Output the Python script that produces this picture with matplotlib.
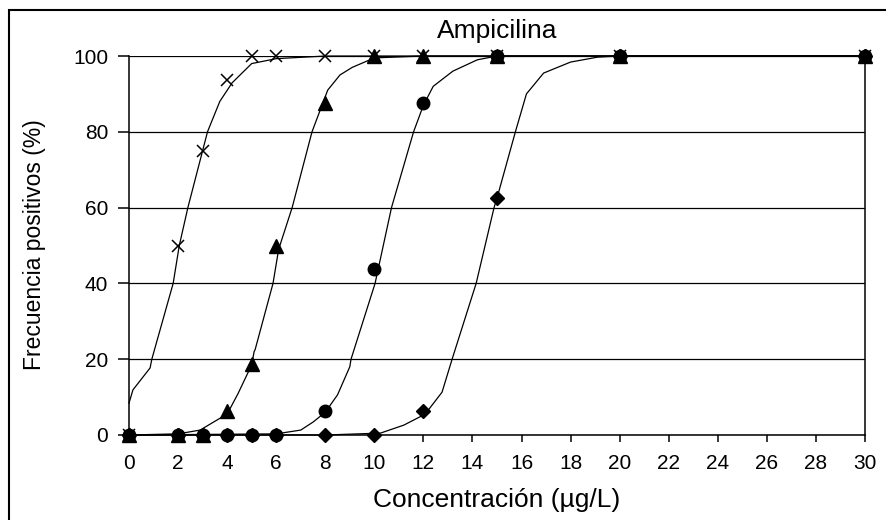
import matplotlib.pyplot as plt
from matplotlib.patches import Rectangle

plt.rcParams["font.family"] = ["Liberation Sans", "DejaVu Sans"]

# concentraciones ensayadas y frecuencia de positivos (%) por serie
conc = [0, 2, 3, 4, 5, 6, 8, 10, 12, 15, 20, 30]
serie_cruz = [0, 50, 75, 93.75, 100, 100, 100, 100, 100, 100, 100, 100]
serie_triangulo = [0, 0, 0, 6.25, 18.75, 50, 87.5, 100, 100, 100, 100, 100]
serie_circulo = [0, 0, 0, 0, 0, 0, 6.25, 43.75, 87.5, 100, 100, 100]
serie_rombo = [0, 0, 0, 0, 0, 0, 0, 0, 6.25, 62.5, 100, 100]

# curvas ajustadas, leidas punto a punto del grafico
curva_cruz_x = [0, 0.16, 0.86, 0.93, 1.8, 2.05, 2.4, 3.2, 3.7, 4.2, 5, 6, 8, 30]
curva_cruz_y = [8.4, 11.9, 17.7, 20, 40, 50, 60, 80, 88, 92.9, 98, 99.3, 100, 100]

curva_tri_x = [0, 2, 2.9, 3.6, 4, 4.45, 5, 5.1, 5.14, 5.87, 6.1, 6.65, 7.46, 8.1, 8.6, 9.1, 10, 12, 30]
curva_tri_y = [0, 0.3, 1.3, 4, 5.5, 11, 18.5, 22, 22.5, 40, 49, 60, 80, 91, 95, 97, 99.5, 100, 100]

curva_circ_x = [0, 6, 7, 7.5, 8, 8.5, 9.0, 9.05, 10.03, 10.7, 11.6, 12.0, 12.4, 13.2, 14.2, 15, 30]
curva_circ_y = [0, 0.3, 1.3, 3.4, 6, 10.6, 18, 20, 40, 60, 80, 87, 92, 96, 99, 100, 100]

curva_rombo_x = [0, 8, 10.25, 11.2, 12.07, 12.76, 13.17, 14.15, 14.88, 15.0, 15.75, 16.2, 16.9, 18.0, 19.1, 20, 30]
curva_rombo_y = [0, 0, 0.5, 2.6, 5.5, 11.3, 20, 40, 60, 62.5, 80, 90, 95.5, 98.4, 99.7, 100, 100]

fig = plt.figure(figsize=(8.87, 5.2), dpi=100)
ax = fig.add_axes([129 / 887, 85 / 520, 736 / 887, 379 / 520])

# curvas
for cx, cy in [
    (curva_cruz_x, curva_cruz_y),
    (curva_tri_x, curva_tri_y),
    (curva_circ_x, curva_circ_y),
    (curva_rombo_x, curva_rombo_y),
]:
    ax.plot(cx, cy, color="black", lw=0.9, clip_on=False, zorder=3)

# puntos
ax.plot(conc, serie_rombo, "D", color="black", ms=7, clip_on=False, zorder=4)
ax.plot(conc, serie_cruz, "x", color="black", ms=9, mew=1.1, clip_on=False, zorder=5)
ax.plot(conc, serie_triangulo, "^", color="black", ms=10, clip_on=False, zorder=5)
ax.plot(conc, serie_circulo, "o", color="black", ms=9, clip_on=False, zorder=6)

ax.set_xlim(0, 30)
ax.set_ylim(0, 100)
ax.set_xticks(range(0, 31, 2))
ax.set_yticks(range(0, 101, 20))
ax.yaxis.grid(True, color="black", lw=0.9)
ax.set_axisbelow(True)

ax.spines["top"].set_visible(False)
for s in ["left", "right", "bottom"]:
    ax.spines[s].set_linewidth(1.1)
ax.tick_params(axis="x", direction="out", length=5, width=1.1, pad=9, labelsize=15)
ax.tick_params(axis="y", direction="out", length=8, width=1.1, pad=7, labelsize=15)

fig.text(497 / 887, (520 - 31) / 520, "Ampicilina", ha="center", va="center", fontsize=19)
fig.text(497 / 887, (520 - 500) / 520, "Concentración (µg/L)", ha="center", va="center", fontsize=19)
fig.text(35 / 887, (520 - 245) / 520, "Frecuencia positivos (%)", ha="center", va="center",
         rotation=90, fontsize=16.5)

# marco del grafico (solo se ven los bordes izquierdo y superior)
fig.patches.append(Rectangle((9 / 887, -0.1), 1.2, (520 - 10) / 520 + 0.1, transform=fig.transFigure,
                             fill=False, edgecolor="black", lw=1.5))

fig.savefig("out.png", dpi=100)
